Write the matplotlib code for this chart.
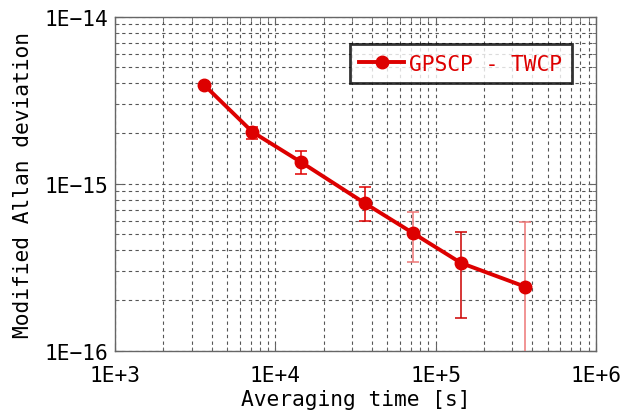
import matplotlib
matplotlib.use("Agg")
import matplotlib.pyplot as plt
import numpy as np
from matplotlib.ticker import LogLocator, FixedLocator, NullFormatter

plt.rcParams['font.family'] = ['DejaVu Sans Mono', 'DejaVu Sans']

tau = [3600, 7200, 14400, 36000, 72000, 144000, 360000]
adev = [3.9e-15, 2.04e-15, 1.35e-15, 7.66e-16, 5.07e-16, 3.35e-16, 2.42e-16]
err_hi = [3.95e-15, 2.18e-15, 1.56e-15, 9.5e-16, 6.8e-16, 5.16e-16, 5.87e-16]
err_lo = [3.85e-15, 1.85e-15, 1.14e-15, 6.0e-16, 3.38e-16, 1.56e-16, 5.0e-17]
err_colors = ['#e00000', '#e00000', '#e00000', '#e00000', '#ee7777', '#cc0000', '#ee7777']
series_label = 'GPSCP - TWCP'
xticks = [1e3, 1e4, 1e5, 1e6]
xticklabels = ['1E+3', '1E+4', '1E+5', '1E+6']
yticks = [1e-16, 1e-15, 1e-14]
yticklabels = ['1E\u221216', '1E\u221215', '1E\u221214']

FS = 15.3

fig = plt.figure(figsize=(6.34, 4.14), dpi=100)
ax = fig.add_axes([0.1814, 0.1505, 0.9401 - 0.1814, 0.9572 - 0.1505])
ax.set_xscale('log')
ax.set_yscale('log')
ax.set_xlim(1e3, 1e6)
ax.set_ylim(1e-16, 1e-14)

red = '#dd0000'
for t, lo, hi, c in zip(tau, err_lo, err_hi, err_colors):
    mid = np.sqrt(lo * hi)
    ax.errorbar([t], [mid], yerr=[[mid - lo], [hi - mid]],
                fmt='none', ecolor=c, elinewidth=1.1, capsize=4.5, capthick=1.1, zorder=3)
ax.plot(tau, adev, '-o', color=red, lw=2.8, markersize=9, label=series_label, zorder=4)

ax.xaxis.set_major_locator(FixedLocator(xticks))
ax.set_xticklabels(xticklabels)
ax.yaxis.set_major_locator(FixedLocator(yticks))
ax.set_yticklabels(yticklabels)
ax.xaxis.set_minor_locator(LogLocator(base=10, subs=np.arange(2, 10)))
ax.yaxis.set_minor_locator(LogLocator(base=10, subs=np.arange(2, 10)))
ax.xaxis.set_minor_formatter(NullFormatter())
ax.yaxis.set_minor_formatter(NullFormatter())

ax.grid(True, which='both', linestyle=(0, (3, 3)), color='#555555', linewidth=0.8)
ax.tick_params(which='both', direction='in', top=True, right=True, color='#666666')
ax.tick_params(which='major', length=6, labelsize=FS)
ax.tick_params(axis='x', which='major', pad=10)
ax.tick_params(axis='y', which='major', pad=5)
ax.tick_params(which='minor', length=3)
for s in ax.spines.values():
    s.set_color('#666666')
    s.set_linewidth(1.0)

ax.set_xlabel('Averaging time [s]', fontsize=FS, labelpad=3)
ax.set_ylabel('Modified Allan deviation', fontsize=FS, labelpad=8)

leg = ax.legend(loc='upper right', bbox_to_anchor=(0.950, 0.918), borderaxespad=0,
                fontsize=FS, handlelength=2.1, frameon=True, fancybox=False,
                borderpad=0.45, handletextpad=0.25)
leg.get_frame().set_edgecolor('black')
leg.get_frame().set_linewidth(2)
for txt in leg.get_texts():
    txt.set_color(red)

fig.savefig('out.png', dpi=100)
